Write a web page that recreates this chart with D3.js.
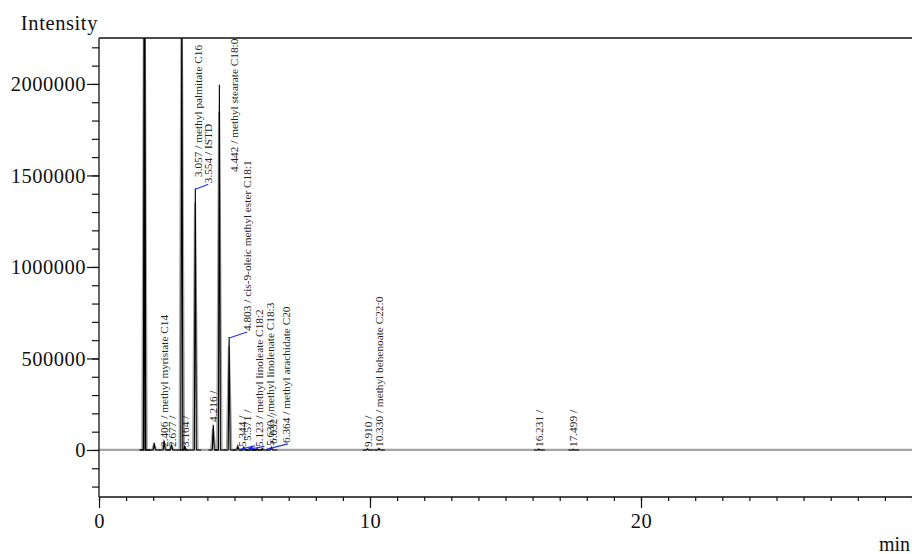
<!DOCTYPE html>
<html><head><meta charset="utf-8">
<script src="https://cdn.jsdelivr.net/npm/d3@7"></script>
<style>
body{margin:0;background:#fff}
svg{display:block}
text{font-family:"Liberation Serif","Times New Roman",serif}
</style>
</head><body>
<svg id="c" width="912" height="554"></svg>
<script>
// ---------------- data ----------------
const xTickMajor = [0, 10, 20];
const yTickMajor = [0, 500000, 1000000, 1500000, 2000000];
const peakTimes    = [1.68, 2.04, 2.406, 2.677, 3.057, 3.164, 3.554, 4.216, 4.442, 4.803, 5.123, 5.344, 5.571, 5.630, 5.832, 6.032, 6.364, 9.910, 10.330, 16.231, 17.499];
const blackHeights = [3000000, 38000, 50000, 30000, 2600000, 22000, 1430000, 137000, 1995000, 617000, 20000, 14000, 10000, 16000, 6000, 8000, 14000, 5000, 8000, 4000, 3000];
const greyHeights  = [3000000, 30000, 42000, 24000, 2600000, 18000, 1350000, 118000, 1850000, 570000, 16000, 11000, 8000, 13000, 5000, 6000, 11000, 4000, 6000, 3000, 2500];
const peakLabels   = [null, null, "2.406 / methyl myristate C14", "2.677 /", "3.057 / methyl palmitate C16", "3.164 /",
  "3.554 / ISTD", "4.216 /", "4.442 / methyl stearate C18:0", "4.803 / cis-9-oleic methyl ester C18:1",
  "5.123 / methyl linoleate C18:2", "5.344 /", "5.571 /", "5.630 / methyl linolenate C18:3", null, "6.032 /",
  "6.364 / methyl arachidate C20", "9.910 /", "10.330 / methyl behenoate C22:0", "16.231 /", "17.499 /"];
// blue baseline segments: [t0, h0, t1, h1]
const blueBaselines = [[5.09, 0, 5.75, 22000], [5.50, 3000, 6.10, 20000], [6.20, 5000, 6.97, 33000]];
const yTitle = "Intensity";
const xTitle = "min";

// ---------------- layout ----------------
const L = 99, R = 912, T = 38, B = 497;
const x = d3.scaleLinear().domain([0, 30]).range([L, R]);
const y = d3.scaleLinear().domain([-257000, 2251000]).range([B, T]);
const svg = d3.select("#c");

svg.append("defs").append("clipPath").attr("id", "plot")
  .append("rect").attr("x", L).attr("y", T).attr("width", R - L).attr("height", B - T);

const plot = svg.append("g").attr("clip-path", "url(#plot)");

// grey trace (full run)
const greyPts = [[0, 0]];
peakTimes.forEach((t, i) => {
  greyPts.push([t - 0.08, 0], [t - 0.01, greyHeights[i]], [t + 0.08, 0]);
});
greyPts.push([30, 0]);
const line = d3.line().x(d => x(d[0])).y(d => y(d[1]));
plot.append("path").attr("d", line(greyPts))
  .attr("fill", "none").attr("stroke", "#a4a4a4").attr("stroke-width", 2.2);

// black trace (peak windows)
peakTimes.forEach((t, i) => {
  const pts = [[t - 0.18, 0], [t - 0.035, 0], [t, blackHeights[i]], [t + 0.035, 0], [t + 0.22, 0]];
  plot.append("path").attr("d", line(pts))
    .attr("fill", "none").attr("stroke", "#000").attr("stroke-width", i === 0 ? 1.6 : 1.1);
});

// blue baselines
blueBaselines.forEach(b => {
  plot.append("line")
    .attr("x1", x(b[0])).attr("y1", y(b[1])).attr("x2", x(b[2])).attr("y2", y(b[3]))
    .attr("stroke", "#2233ee").attr("stroke-width", 1.2);
});

// ---------------- peak labels ----------------
const tickPeaks = { "3.554": [13, -4], "4.803": [18, -5] };
const labelPlace = {
  "3.057": t => ({ bx: x(t) + 20, sy: 177 }),
  "4.442": t => ({ bx: x(t) + 18.6, sy: 172 }),
  "5.123": t => ({ bx: x(t) + 25, sy: 447 }),
  "5.344": t => ({ bx: x(t) + 2, sy: 447 }),
  "5.571": t => ({ bx: x(t) + 1.5, sy: 441 }),
  "5.630": t => ({ bx: x(t) + 22, sy: 446 }),
  "6.032": t => ({ bx: x(t) + 15, sy: 444 }),
  "6.364": t => ({ bx: x(t) + 18.5, sy: 443 })
};
const labG = svg.append("g");
peakTimes.forEach((t, i) => {
  const lab = peakLabels[i];
  if (!lab) return;
  const key = lab.split(" ")[0];
  let bx, sy;
  if (tickPeaks[key]) {
    const px = x(t), py = y(blackHeights[i]);
    const [dx, dy] = tickPeaks[key];
    labG.append("line").attr("x1", px).attr("y1", py + 1).attr("x2", px + dx).attr("y2", py + dy)
      .attr("stroke", "#2233ee").attr("stroke-width", 1.2);
    bx = px + dx + 4; sy = py + dy - 1;
  } else if (labelPlace[key]) {
    const p = labelPlace[key](t); bx = p.bx; sy = p.sy;
  } else {
    bx = x(t) + 4;
    sy = blackHeights[i] > 100000 ? y(blackHeights[i]) - 3 : 447;
  }
  labG.append("text")
    .attr("transform", `translate(${bx},${sy}) rotate(-90)`)
    .attr("font-size", "11.3px").attr("fill", "#222")
    .text(lab);
});

// ---------------- axes ----------------
const axX = svg.append("g").attr("transform", `translate(0,${B})`);
axX.call(d3.axisBottom(x).tickValues(x.ticks(30)).tickSize(4).tickFormat(""));
axX.call(g => g.select(".domain").remove());
const axX2 = svg.append("g").attr("transform", `translate(0,${B})`);
axX2.call(d3.axisBottom(x).tickValues(xTickMajor).tickSize(11).tickPadding(5).tickFormat(d3.format("d")));
axX2.call(g => g.select(".domain").remove());

const axY = svg.append("g").attr("transform", `translate(${L},0)`);
axY.call(d3.axisLeft(y).tickValues(y.ticks(25)).tickSize(7).tickFormat(""));
axY.call(g => g.select(".domain").remove());
const axY2 = svg.append("g").attr("transform", `translate(${L},0)`);
axY2.call(d3.axisLeft(y).tickValues(yTickMajor).tickSize(12).tickPadding(1).tickFormat(d3.format("d")));
axY2.call(g => g.select(".domain").remove());

svg.selectAll(".tick line").attr("stroke", "#111").attr("stroke-width", 1.2);
svg.selectAll(".tick text").attr("font-size", "20.5px").attr("fill", "#111")
  .attr("letter-spacing", "0.5px")
  .attr("font-family", "'Liberation Serif','Times New Roman',serif");

// frame lines
svg.append("line").attr("x1", L).attr("y1", T).attr("x2", L).attr("y2", B).attr("stroke", "#111").attr("stroke-width", 1.3);
svg.append("line").attr("x1", L).attr("y1", T).attr("x2", R).attr("y2", T).attr("stroke", "#111").attr("stroke-width", 1.3);
svg.append("line").attr("x1", L).attr("y1", B).attr("x2", R).attr("y2", B).attr("stroke", "#111").attr("stroke-width", 1.3);

// titles
svg.append("text").attr("x", 98).attr("y", 30).attr("text-anchor", "end")
  .attr("font-size", "20.5px").attr("letter-spacing", "0.6px").attr("fill", "#111").text(yTitle);
svg.append("text").attr("x", 910).attr("y", 551).attr("text-anchor", "end")
  .attr("font-size", "20px").attr("fill", "#111").text(xTitle);
</script>
</body></html>
